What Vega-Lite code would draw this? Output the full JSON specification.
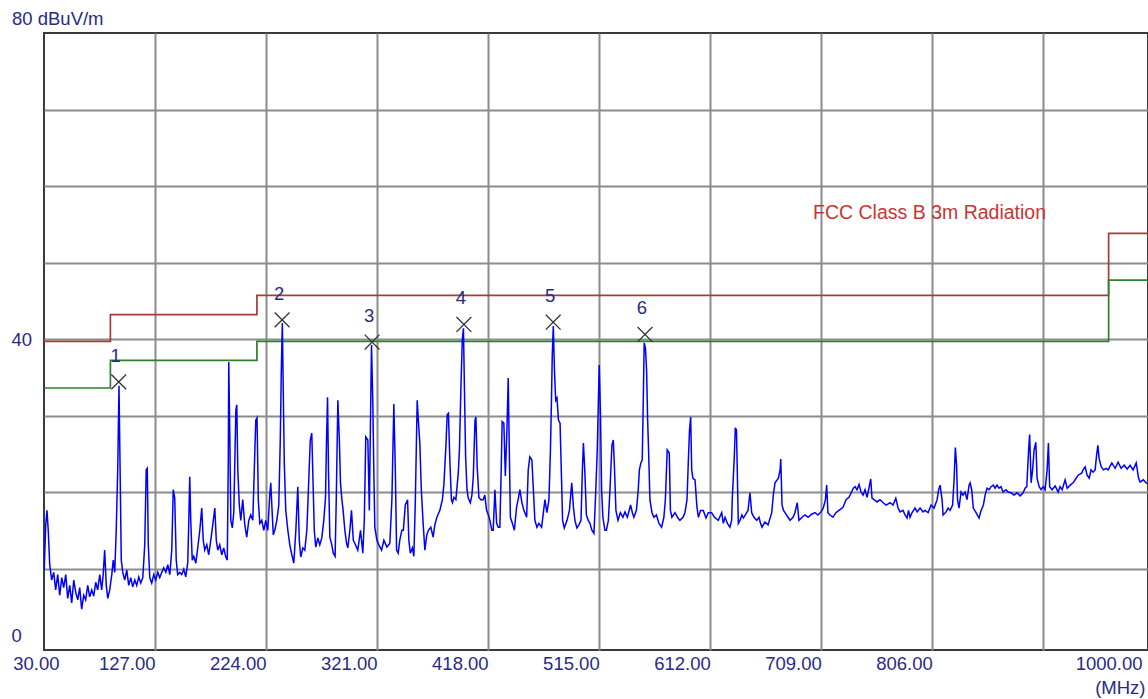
{
"$schema": "https://vega.github.io/schema/vega-lite/v6.json",
"width": 1104, "height": 617,
"autosize": {"type": "none"},
"padding": {"left": 44, "top": 33, "right": 0, "bottom": 49},
"background": "white",
"config": {"view": {"stroke": "#3a3a3a", "strokeWidth": 2}, "font": "Liberation Sans"},
"datasets": {
"limits": [
{"f":30,"v":39.7,"s":"limit"},{"f":88,"v":43.2,"s":"limit"},{"f":216,"v":45.7,"s":"limit"},{"f":960,"v":53.8,"s":"limit"},{"f":1000,"v":53.8,"s":"limit"},
{"f":30,"v":33.6,"s":"margin"},{"f":88,"v":37.2,"s":"margin"},{"f":216,"v":39.7,"s":"margin"},{"f":960,"v":47.7,"s":"margin"},{"f":1000,"v":47.7,"s":"margin"}],
"note": [{"f":701.8,"v":56.5,"t":"FCC Class B 3m Radiation"}],
"markers": [{"f":95.3,"v":34.4,"n":"1"},{"f":238.0,"v":42.5,"n":"2"},{"f":316.6,"v":39.6,"n":"3"},{"f":396.8,"v":41.9,"n":"4"},{"f":474.8,"v":42.2,"n":"5"},{"f":555.0,"v":40.6,"n":"6"}],
"trace": [
{"f":30.2,"v":9.8},{"f":31.5,"v":15.7},{"f":32.6,"v":17.6},{"f":33.7,"v":15.0},{"f":35.0,"v":10.5},{"f":36.7,"v":8.5},{"f":38.5,"v":9.5},{"f":40.2,"v":7.2},{"f":42.0,"v":9.2},{"f":43.7,"v":6.5},
{"f":45.5,"v":8.8},{"f":47.2,"v":7.5},{"f":49.0,"v":9.2},{"f":50.7,"v":6.1},{"f":52.5,"v":7.8},{"f":54.2,"v":5.5},{"f":56.0,"v":8.5},{"f":57.7,"v":6.9},{"f":59.5,"v":5.9},{"f":61.2,"v":7.5},
{"f":62.9,"v":4.7},{"f":64.7,"v":6.5},{"f":66.4,"v":5.9},{"f":68.2,"v":7.8},{"f":69.9,"v":6.3},{"f":71.7,"v":7.2},{"f":73.4,"v":6.4},{"f":75.2,"v":8.2},{"f":76.9,"v":7.2},{"f":78.7,"v":9.2},
{"f":80.4,"v":7.2},{"f":81.7,"v":9.2},{"f":83.0,"v":12.4},{"f":84.4,"v":7.8},{"f":85.7,"v":6.1},{"f":87.4,"v":7.2},{"f":89.2,"v":9.2},{"f":90.5,"v":11.1},{"f":91.8,"v":9.5},{"f":93.1,"v":15.0},
{"f":94.4,"v":22.9},{"f":95.5,"v":33.9},{"f":96.6,"v":21.6},{"f":97.5,"v":11.1},{"f":98.8,"v":9.5},{"f":100.5,"v":8.5},{"f":102.3,"v":9.8},{"f":104.0,"v":7.8},{"f":105.8,"v":8.8},{"f":107.5,"v":7.6},
{"f":109.3,"v":8.5},{"f":111.0,"v":7.8},{"f":112.8,"v":8.9},{"f":114.5,"v":8.1},{"f":116.3,"v":8.8},{"f":118.0,"v":13.1},{"f":119.3,"v":22.9},{"f":120.2,"v":23.1},{"f":121.1,"v":13.1},{"f":122.4,"v":8.8},
{"f":124.1,"v":8.1},{"f":125.9,"v":9.2},{"f":127.6,"v":8.5},{"f":129.4,"v":9.5},{"f":131.1,"v":8.8},{"f":132.9,"v":9.5},{"f":134.6,"v":10.1},{"f":136.4,"v":9.5},{"f":138.1,"v":10.5},{"f":139.9,"v":9.2},
{"f":141.6,"v":12.4},{"f":142.9,"v":20.3},{"f":144.2,"v":19.2},{"f":145.5,"v":11.1},{"f":146.8,"v":9.2},{"f":148.6,"v":9.5},{"f":150.3,"v":9.2},{"f":152.1,"v":9.9},{"f":153.8,"v":8.9},{"f":155.6,"v":10.8},
{"f":156.5,"v":16.3},{"f":157.3,"v":22.0},{"f":158.2,"v":16.3},{"f":159.5,"v":11.1},{"f":160.8,"v":11.6},{"f":162.6,"v":10.7},{"f":164.3,"v":12.7},{"f":166.1,"v":15.0},{"f":167.8,"v":17.9},{"f":169.1,"v":13.7},
{"f":170.4,"v":12.4},{"f":172.2,"v":13.1},{"f":173.9,"v":11.8},{"f":175.7,"v":13.7},{"f":177.4,"v":15.7},{"f":179.2,"v":17.9},{"f":180.5,"v":13.7},{"f":181.8,"v":12.4},{"f":183.5,"v":13.1},{"f":185.3,"v":11.8},
{"f":187.0,"v":12.7},{"f":188.8,"v":11.5},{"f":190.1,"v":11.1},{"f":191.0,"v":24.2},{"f":191.4,"v":37.0},{"f":192.3,"v":27.5},{"f":193.2,"v":16.3},{"f":194.5,"v":15.3},{"f":195.8,"v":17.4},{"f":197.6,"v":30.7},
{"f":198.4,"v":31.4},{"f":199.3,"v":22.9},{"f":200.6,"v":18.3},{"f":201.9,"v":16.3},{"f":203.6,"v":19.0},{"f":205.4,"v":15.7},{"f":207.1,"v":14.1},{"f":208.9,"v":16.3},{"f":210.6,"v":17.0},{"f":212.4,"v":16.3},
{"f":213.7,"v":22.9},{"f":215.0,"v":29.4},{"f":216.1,"v":29.7},{"f":217.2,"v":19.0},{"f":218.5,"v":15.9},{"f":220.2,"v":16.3},{"f":222.0,"v":15.0},{"f":223.7,"v":16.3},{"f":225.5,"v":15.0},{"f":227.2,"v":19.6},
{"f":228.1,"v":21.2},{"f":229.0,"v":18.3},{"f":230.3,"v":14.4},{"f":231.6,"v":15.0},{"f":233.4,"v":16.3},{"f":235.1,"v":18.3},{"f":236.4,"v":26.8},{"f":237.3,"v":35.9},{"f":238.2,"v":42.1},{"f":239.0,"v":33.3},
{"f":239.9,"v":23.8},{"f":241.2,"v":17.6},{"f":243.0,"v":15.0},{"f":244.7,"v":13.1},{"f":246.5,"v":11.8},{"f":248.2,"v":10.7},{"f":250.0,"v":15.0},{"f":251.7,"v":20.7},{"f":253.0,"v":13.7},{"f":254.3,"v":11.5},
{"f":256.1,"v":12.7},{"f":257.8,"v":12.4},{"f":259.6,"v":15.0},{"f":261.3,"v":21.6},{"f":262.6,"v":26.8},{"f":263.9,"v":27.7},{"f":265.2,"v":20.3},{"f":266.1,"v":15.0},{"f":267.4,"v":12.8},{"f":269.2,"v":14.0},
{"f":270.9,"v":13.1},{"f":272.7,"v":14.0},{"f":274.4,"v":16.3},{"f":275.9,"v":19.2},{"f":276.8,"v":26.8},{"f":277.7,"v":32.4},{"f":278.5,"v":22.9},{"f":279.7,"v":14.1},{"f":281.4,"v":13.1},{"f":282.7,"v":12.0},
{"f":284.3,"v":11.6},{"f":285.3,"v":19.0},{"f":286.7,"v":32.0},{"f":288.0,"v":26.8},{"f":289.0,"v":21.2},{"f":290.2,"v":19.0},{"f":291.3,"v":17.6},{"f":292.8,"v":15.0},{"f":294.3,"v":13.3},{"f":295.4,"v":12.7},
{"f":297.2,"v":15.0},{"f":298.6,"v":17.6},{"f":300.2,"v":13.7},{"f":301.5,"v":13.3},{"f":304.1,"v":12.4},{"f":306.5,"v":15.0},{"f":308.5,"v":12.0},{"f":309.8,"v":16.3},{"f":311.1,"v":27.2},{"f":312.9,"v":26.8},
{"f":314.2,"v":17.6},{"f":315.1,"v":28.1},{"f":316.1,"v":39.2},{"f":317.3,"v":31.1},{"f":318.1,"v":22.9},{"f":319.0,"v":15.4},{"f":320.8,"v":13.7},{"f":322.5,"v":13.1},{"f":324.9,"v":12.4},{"f":326.9,"v":13.7},
{"f":329.5,"v":12.8},{"f":332.1,"v":13.3},{"f":333.9,"v":19.0},{"f":335.6,"v":31.5},{"f":336.9,"v":22.9},{"f":338.0,"v":12.4},{"f":339.4,"v":12.0},{"f":340.8,"v":13.7},{"f":342.6,"v":15.0},{"f":343.9,"v":15.0},
{"f":345.6,"v":18.3},{"f":347.6,"v":19.0},{"f":348.7,"v":13.7},{"f":350.0,"v":12.0},{"f":351.8,"v":12.7},{"f":353.1,"v":11.6},{"f":354.4,"v":19.0},{"f":356.0,"v":32.0},{"f":357.0,"v":29.4},{"f":358.3,"v":26.4},
{"f":359.6,"v":20.3},{"f":361.2,"v":15.9},{"f":362.7,"v":12.4},{"f":364.4,"v":14.4},{"f":365.8,"v":15.0},{"f":367.9,"v":15.4},{"f":369.9,"v":14.1},{"f":371.4,"v":15.7},{"f":373.2,"v":16.7},{"f":375.8,"v":17.6},
{"f":378.0,"v":19.0},{"f":379.3,"v":20.9},{"f":381.1,"v":26.1},{"f":382.2,"v":30.1},{"f":383.3,"v":30.3},{"f":384.6,"v":23.8},{"f":385.9,"v":19.0},{"f":386.8,"v":18.6},{"f":388.1,"v":19.3},{"f":389.8,"v":19.0},
{"f":391.9,"v":22.5},{"f":392.9,"v":25.5},{"f":394.2,"v":33.7},{"f":395.4,"v":39.9},{"f":396.4,"v":41.4},{"f":397.3,"v":33.3},{"f":398.3,"v":24.6},{"f":399.5,"v":20.3},{"f":400.6,"v":19.2},{"f":402.4,"v":18.6},
{"f":403.8,"v":19.6},{"f":405.0,"v":22.0},{"f":406.5,"v":29.4},{"f":407.3,"v":29.8},{"f":408.4,"v":23.3},{"f":409.9,"v":19.3},{"f":411.6,"v":19.0},{"f":413.6,"v":19.0},{"f":415.1,"v":19.6},{"f":416.6,"v":17.6},
{"f":418.2,"v":17.0},{"f":419.5,"v":16.3},{"f":421.2,"v":15.0},{"f":422.4,"v":15.0},{"f":423.9,"v":20.3},{"f":425.4,"v":15.9},{"f":426.8,"v":15.4},{"f":428.2,"v":15.4},{"f":429.4,"v":22.9},{"f":430.2,"v":29.2},
{"f":431.7,"v":29.0},{"f":433.0,"v":22.1},{"f":434.4,"v":28.1},{"f":435.5,"v":34.9},{"f":436.6,"v":24.2},{"f":437.4,"v":16.7},{"f":439.2,"v":15.9},{"f":440.9,"v":15.0},{"f":442.8,"v":18.0},{"f":444.4,"v":19.2},
{"f":445.7,"v":20.3},{"f":447.5,"v":18.6},{"f":449.2,"v":17.6},{"f":451.6,"v":16.7},{"f":453.0,"v":22.9},{"f":454.4,"v":24.6},{"f":456.2,"v":24.2},{"f":457.5,"v":20.3},{"f":458.8,"v":16.3},{"f":460.6,"v":15.4},
{"f":462.3,"v":15.9},{"f":464.7,"v":15.4},{"f":467.6,"v":19.0},{"f":469.3,"v":17.3},{"f":471.1,"v":19.0},{"f":472.4,"v":25.5},{"f":473.3,"v":32.0},{"f":474.0,"v":37.9},{"f":474.9,"v":41.7},{"f":475.9,"v":35.9},
{"f":477.0,"v":32.0},{"f":478.1,"v":32.3},{"f":479.4,"v":29.4},{"f":480.8,"v":29.0},{"f":482.1,"v":21.6},{"f":483.0,"v":16.3},{"f":484.5,"v":15.3},{"f":486.9,"v":16.3},{"f":489.0,"v":17.6},{"f":491.0,"v":21.2},
{"f":492.5,"v":18.0},{"f":493.8,"v":16.3},{"f":495.5,"v":15.3},{"f":497.3,"v":15.7},{"f":499.1,"v":16.3},{"f":500.3,"v":22.9},{"f":501.2,"v":26.4},{"f":502.5,"v":22.5},{"f":503.8,"v":17.0},{"f":505.4,"v":16.3},
{"f":506.9,"v":15.9},{"f":508.6,"v":15.0},{"f":510.4,"v":14.6},{"f":511.7,"v":19.0},{"f":513.3,"v":25.5},{"f":514.3,"v":32.0},{"f":515.0,"v":36.6},{"f":516.1,"v":30.3},{"f":517.1,"v":20.3},{"f":518.2,"v":16.7},
{"f":520.0,"v":15.0},{"f":521.3,"v":15.0},{"f":523.0,"v":16.3},{"f":524.4,"v":20.3},{"f":526.1,"v":26.1},{"f":527.3,"v":26.8},{"f":528.3,"v":23.3},{"f":529.6,"v":17.6},{"f":531.4,"v":16.3},{"f":533.5,"v":17.3},
{"f":535.7,"v":16.7},{"f":537.5,"v":17.4},{"f":539.6,"v":16.7},{"f":542.4,"v":18.3},{"f":544.0,"v":17.3},{"f":545.3,"v":16.7},{"f":547.5,"v":17.6},{"f":549.1,"v":20.3},{"f":550.1,"v":22.9},{"f":551.4,"v":23.8},
{"f":552.6,"v":24.2},{"f":553.5,"v":32.0},{"f":554.3,"v":39.5},{"f":555.4,"v":38.8},{"f":556.4,"v":35.9},{"f":557.3,"v":29.4},{"f":558.0,"v":26.1},{"f":559.3,"v":19.0},{"f":561.1,"v":17.3},{"f":562.8,"v":16.7},
{"f":565.0,"v":17.0},{"f":567.2,"v":15.9},{"f":569.5,"v":15.4},{"f":571.5,"v":16.7},{"f":572.8,"v":19.0},{"f":574.4,"v":25.5},{"f":576.2,"v":25.1},{"f":577.2,"v":17.6},{"f":578.5,"v":16.7},{"f":581.2,"v":17.3},
{"f":583.8,"v":16.6},{"f":585.5,"v":16.3},{"f":588.2,"v":16.7},{"f":589.9,"v":17.3},{"f":591.7,"v":19.0},{"f":592.8,"v":23.8},{"f":593.9,"v":28.1},{"f":594.9,"v":29.8},{"f":595.8,"v":22.9},{"f":596.9,"v":21.8},
{"f":598.7,"v":21.6},{"f":600.4,"v":18.0},{"f":601.7,"v":16.7},{"f":603.5,"v":17.6},{"f":605.9,"v":17.6},{"f":608.3,"v":16.6},{"f":610.3,"v":17.3},{"f":613.2,"v":17.3},{"f":615.7,"v":16.7},{"f":619.0,"v":16.3},
{"f":622.0,"v":17.3},{"f":623.4,"v":15.9},{"f":624.9,"v":16.7},{"f":627.0,"v":15.9},{"f":629.2,"v":15.4},{"f":630.7,"v":16.3},{"f":631.2,"v":19.0},{"f":633.0,"v":24.6},{"f":633.9,"v":28.4},{"f":634.9,"v":28.1},
{"f":635.6,"v":22.9},{"f":636.5,"v":15.9},{"f":638.0,"v":16.3},{"f":639.7,"v":17.0},{"f":641.0,"v":16.6},{"f":643.8,"v":17.3},{"f":645.0,"v":17.6},{"f":646.7,"v":19.9},{"f":648.2,"v":17.3},{"f":650.2,"v":16.7},
{"f":652.6,"v":16.3},{"f":654.6,"v":16.7},{"f":655.9,"v":15.9},{"f":657.2,"v":15.4},{"f":659.8,"v":16.1},{"f":662.5,"v":15.7},{"f":665.7,"v":17.3},{"f":667.3,"v":19.9},{"f":668.6,"v":21.2},{"f":671.5,"v":21.8},
{"f":673.0,"v":22.9},{"f":673.6,"v":24.3},{"f":674.7,"v":18.3},{"f":676.0,"v":17.6},{"f":677.3,"v":17.3},{"f":679.9,"v":16.7},{"f":681.7,"v":16.3},{"f":684.3,"v":16.7},{"f":686.0,"v":17.3},{"f":688.0,"v":18.6},
{"f":689.5,"v":16.3},{"f":692.2,"v":16.7},{"f":694.8,"v":17.0},{"f":697.4,"v":16.7},{"f":700.6,"v":17.1},{"f":703.5,"v":17.3},{"f":706.1,"v":17.0},{"f":708.7,"v":17.4},{"f":710.7,"v":17.9},{"f":712.6,"v":19.0},
{"f":713.7,"v":20.9},{"f":714.8,"v":17.3},{"f":716.6,"v":17.0},{"f":719.2,"v":16.7},{"f":721.8,"v":17.3},{"f":724.4,"v":17.6},{"f":728.0,"v":18.0},{"f":730.6,"v":19.0},{"f":733.2,"v":19.3},{"f":737.0,"v":20.5},
{"f":738.5,"v":20.7},{"f":740.2,"v":20.3},{"f":742.0,"v":21.0},{"f":743.7,"v":20.0},{"f":745.5,"v":19.6},{"f":747.2,"v":20.3},{"f":749.0,"v":19.3},{"f":752.2,"v":21.7},{"f":753.3,"v":19.2},{"f":755.1,"v":19.0},
{"f":757.7,"v":18.7},{"f":760.3,"v":19.0},{"f":763.0,"v":18.6},{"f":765.6,"v":18.3},{"f":769.1,"v":18.6},{"f":771.7,"v":18.3},{"f":774.1,"v":19.2},{"f":776.1,"v":17.9},{"f":777.8,"v":17.4},{"f":780.4,"v":17.6},
{"f":782.2,"v":17.0},{"f":783.9,"v":16.6},{"f":785.2,"v":17.6},{"f":786.5,"v":16.7},{"f":788.3,"v":17.3},{"f":790.9,"v":17.9},{"f":792.7,"v":17.4},{"f":795.3,"v":17.9},{"f":797.9,"v":17.4},{"f":799.6,"v":17.6},
{"f":802.3,"v":17.3},{"f":804.9,"v":18.3},{"f":807.5,"v":17.9},{"f":810.2,"v":19.0},{"f":811.5,"v":20.3},{"f":812.8,"v":20.9},{"f":814.5,"v":19.0},{"f":815.4,"v":17.0},{"f":818.0,"v":17.4},{"f":819.8,"v":17.9},
{"f":821.5,"v":17.6},{"f":823.7,"v":18.3},{"f":825.0,"v":21.6},{"f":826.1,"v":25.8},{"f":827.2,"v":23.5},{"f":828.0,"v":19.0},{"f":829.3,"v":17.9},{"f":831.1,"v":20.0},{"f":832.8,"v":19.6},{"f":834.6,"v":20.0},
{"f":836.3,"v":19.0},{"f":838.1,"v":20.9},{"f":839.0,"v":21.2},{"f":840.4,"v":20.3},{"f":841.8,"v":17.9},{"f":844.2,"v":17.3},{"f":846.8,"v":16.6},{"f":848.6,"v":17.6},{"f":850.6,"v":18.3},{"f":852.1,"v":19.6},
{"f":853.8,"v":20.5},{"f":855.6,"v":20.3},{"f":857.3,"v":20.7},{"f":859.3,"v":20.9},{"f":860.8,"v":20.5},{"f":862.5,"v":20.9},{"f":864.3,"v":20.5},{"f":866.0,"v":20.7},{"f":867.8,"v":20.0},{"f":870.4,"v":20.3},
{"f":872.2,"v":20.0},{"f":874.8,"v":19.9},{"f":877.4,"v":19.6},{"f":880.0,"v":19.9},{"f":882.7,"v":19.5},{"f":885.3,"v":19.9},{"f":887.0,"v":20.5},{"f":888.5,"v":20.7},{"f":890.1,"v":25.5},{"f":891.0,"v":27.5},
{"f":892.3,"v":21.2},{"f":893.6,"v":22.9},{"f":894.9,"v":25.5},{"f":896.4,"v":26.5},{"f":897.5,"v":21.8},{"f":899.3,"v":20.7},{"f":901.0,"v":20.3},{"f":902.8,"v":20.7},{"f":904.5,"v":20.3},{"f":906.3,"v":22.9},
{"f":907.4,"v":26.4},{"f":908.5,"v":20.7},{"f":910.7,"v":20.3},{"f":913.3,"v":20.8},{"f":915.9,"v":20.0},{"f":917.6,"v":20.7},{"f":919.4,"v":20.3},{"f":922.0,"v":21.6},{"f":923.8,"v":20.5},{"f":926.4,"v":20.9},
{"f":929.0,"v":21.2},{"f":931.6,"v":21.8},{"f":933.4,"v":22.2},{"f":936.6,"v":22.5},{"f":937.7,"v":22.9},{"f":939.5,"v":23.3},{"f":941.2,"v":22.2},{"f":943.0,"v":21.8},{"f":944.7,"v":22.9},{"f":946.5,"v":22.6},
{"f":948.2,"v":22.9},{"f":949.5,"v":24.8},{"f":950.6,"v":26.1},{"f":951.7,"v":24.4},{"f":953.5,"v":23.3},{"f":955.5,"v":22.9},{"f":957.8,"v":23.1},{"f":959.6,"v":22.9},{"f":962.8,"v":23.8},{"f":965.7,"v":23.1},
{"f":968.3,"v":23.9},{"f":970.9,"v":23.1},{"f":973.6,"v":23.5},{"f":976.2,"v":23.0},{"f":978.8,"v":23.5},{"f":981.4,"v":22.9},{"f":984.1,"v":23.8},{"f":986.2,"v":21.8},{"f":987.5,"v":21.3},{"f":990.2,"v":21.6},
{"f":992.8,"v":21.2},{"f":995.4,"v":21.0}]
},
"encoding": {
"x": {"field": "f", "type": "quantitative",
 "scale": {"domain": [30, 994.4], "nice": false, "zero": false},
 "axis": {"values": [30,127,224,321,418,515,612,709,806,903,994.4],
  "labelExpr": "datum.value > 990 ? '1000.00' : (datum.value == 903 ? '' : format(datum.value, '.2f'))",
  "title": "(MHz)", "titleFont": "Liberation Sans", "titleFontSize": 18.5, "titleFontWeight": "normal", "titleColor": "#2a2a86",
  "titleAlign": "right", "titleBaseline": "alphabetic", "titleX": 1101, "titleY": 43, "titleAngle": 0,
  "grid": true, "gridColor": "#8c8c8c", "gridWidth": 2,
  "gridOpacity": {"condition": {"test": "datum.value == 30 || datum.value > 990", "value": 0}, "value": 1},
  "domain": false, "ticks": false, "tickSize": 0,
  "labelAlign": "right", "labelBaseline": "top", "labelPadding": 4,
  "labelOffset": {"condition": [{"test": "datum.value == 30", "value": 15}, {"test": "datum.value > 990", "value": -6}], "value": 0},
  "labelFont": "Liberation Sans", "labelFontSize": 18.5, "labelColor": "#2a2a86",
  "labelOverlap": false, "labelBound": false, "labelFlush": false}},
"y": {"field": "v", "type": "quantitative",
 "scale": {"domain": [-0.65, 80], "nice": false, "zero": false},
 "axis": {"values": [0,10,20,30,40,50,60,70,80],
  "labelExpr": "(datum.value == 0 || datum.value == 40) ? format(datum.value, 'd') : ''",
  "title": "80 dBuV/m", "titleFont": "Liberation Sans", "titleFontSize": 18.5, "titleFontWeight": "normal", "titleColor": "#2a2a86",
  "titleAngle": 0, "titleAlign": "left", "titleBaseline": "alphabetic", "titleX": -32.5, "titleY": -9,
  "grid": true, "gridColor": "#8c8c8c", "gridWidth": 2,
  "gridOpacity": {"condition": {"test": "datum.value == 0 || datum.value == 80", "value": 0}, "value": 1},
  "domain": false, "ticks": false, "tickSize": 0,
  "labelAlign": "left", "labelPadding": 33,
  "labelBaseline": {"condition": {"test": "datum.value == 0", "value": "bottom"}, "value": "middle"},
  "labelFont": "Liberation Sans", "labelFontSize": 18.5, "labelColor": "#2a2a86",
  "labelOverlap": false, "labelBound": false, "labelFlush": false}}
},
"layer": [
 {"data": {"name": "limits"},
  "mark": {"type": "line", "interpolate": "step-after", "strokeWidth": 1.7, "clip": true},
  "encoding": {"color": {"field": "s", "type": "nominal", "scale": {"domain": ["limit","margin"], "range": ["#a83a3a","#2f7f2f"]}, "legend": null}}},
 {"data": {"name": "note"},
  "mark": {"type": "text", "align": "left", "baseline": "middle", "fontSize": 19.5, "font": "Liberation Sans", "color": "#cc3333"},
  "encoding": {"text": {"field": "t"}}},
 {"data": {"name": "trace"},
  "mark": {"type": "line", "color": "#0000ff", "strokeWidth": 1.5, "clip": true},
  "encoding": {}},
 {"data": {"name": "markers"},
  "mark": {"type": "point", "shape": "M-1,-1L1,1M-1,1L1,-1", "size": 220, "filled": false, "color": "#333333", "strokeWidth": 1.3, "opacity": 1},
  "encoding": {}},
 {"data": {"name": "markers"},
  "mark": {"type": "text", "dx": -3, "dy": -26, "fontSize": 18.5, "font": "Liberation Sans", "color": "#2a2a86"},
  "encoding": {"text": {"field": "n"}}}
]
}
